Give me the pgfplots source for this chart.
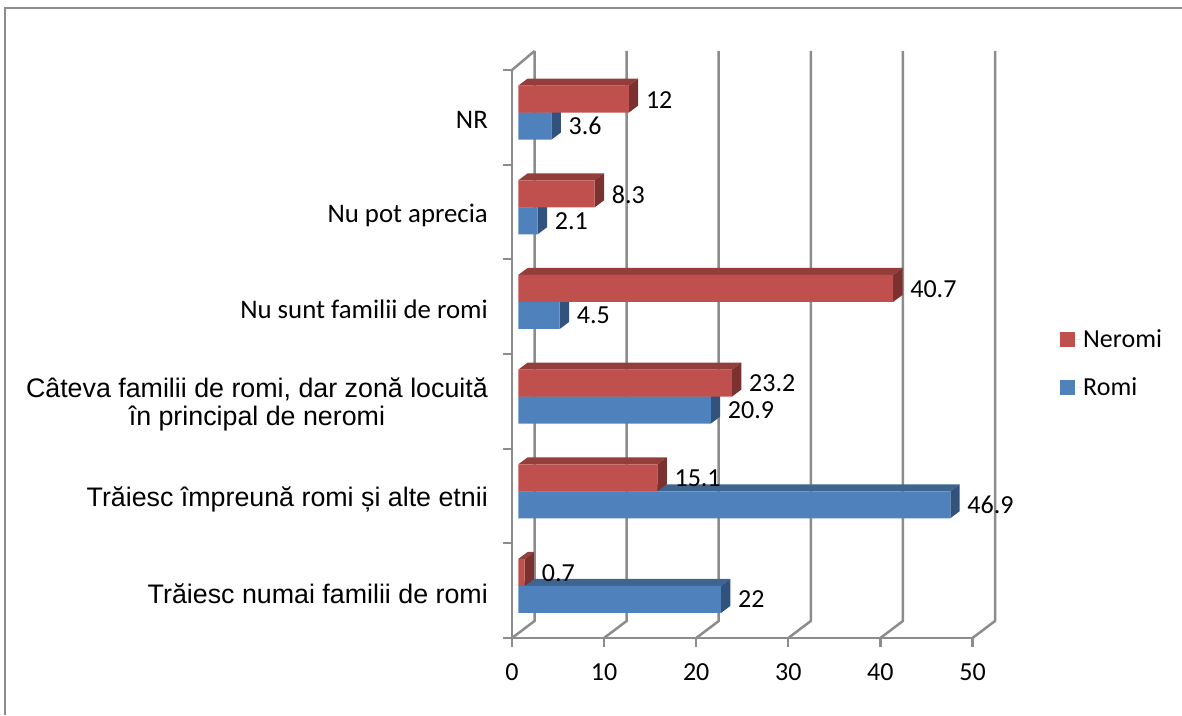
\documentclass[border=0pt]{standalone}
\usepackage{pgfplots}
\usepackage{pgfplotstable}
\pgfplotsset{compat=1.18}
\usepackage{fontspec}
\setmainfont{Carlito}
\newfontfamily\arial{Liberation Sans}
\definecolor{redF}{HTML}{C0504D}
\definecolor{redT}{HTML}{943E3C}
\definecolor{redS}{HTML}{7A3130}
\definecolor{bluF}{HTML}{4F81BD}
\definecolor{bluT}{HTML}{3E6590}
\definecolor{bluS}{HTML}{30527C}
\definecolor{axc}{HTML}{8C8C8C}
\pgfplotstableread{
y romi neromi
0.55 22 0.7
1.55 46.9 15.1
2.55 20.9 23.2
3.55 4.5 40.7
4.55 2.1 8.3
5.55 3.6 12
}\datatable
% depth faces of one bar: centre y, value, top colour, side colour, offset of the bar from the group centre
\newcommand{\depthfaces}[5]{%
  \pgfmathsetmacro{\xa}{#2+0.684}%
  \pgfmathsetmacro{\xb}{#2+0.684+1.02}%
  \pgfmathsetmacro{\xc}{0.684}%
  \pgfmathsetmacro{\xd}{0.684+1.02}%
  \pgfmathsetmacro{\ya}{#1+#5-0.1426}%
  \pgfmathsetmacro{\yb}{#1+#5+0.1426}%
  \pgfmathsetmacro{\yc}{#1+#5+0.1426+0.074}%
  \pgfmathsetmacro{\yd}{#1+#5-0.1426+0.074}%
  \addplot[draw=none,fill=#3,forget plot] coordinates {(\xc,\yb) (\xa,\yb) (\xb,\yc) (\xd,\yc)} --cycle;
  \addplot[draw=none,fill=#4,forget plot] coordinates {(\xa,\ya) (\xa,\yb) (\xb,\yc) (\xb,\yd)} --cycle;
}
\begin{document}
\begin{tikzpicture}[x=1pt,y=1pt]
\useasboundingbox (0,0) rectangle (1182,715);
\draw[color=axc,line width=2pt] (5,0) -- (5,707) -- (1182,707);
\begin{axis}[
  at={(512pt,77pt)},anchor=south west,
  width=460.5pt,height=568pt,scale only axis,
  xmin=0,xmax=50,ymin=0,ymax=6,clip=false,
  axis x line=bottom,axis y line=left,
  axis line style={-,color=axc,line width=2.5pt},
  xtick={0,10,20,30,40,50},
  ytick={0.5,1.5,2.5,3.5,4.5,5.5},
  minor ytick={0,1,2,3,4,5,6},
  yticklabels={
    {\arial Trăiesc numai familii de romi},
    {\arial Trăiesc împreună romi și alte etnii},
    {\arial Câteva familii de romi, dar zonă locuită\\\arial în principal de neromi},
    {Nu sunt familii de romi},
    {Nu pot aprecia},
    {NR}},
  tick align=outside,
  tick style={color=axc,line width=2.2pt},
  major tick length=9pt,
  minor tick length=9pt,
  major y tick style={draw=none},
  minor y tick style={draw=axc,line width=2.2pt},
  /pgf/number format/assume math mode=true,
  xticklabel style={font=\fontsize{26}{31}\selectfont,yshift=-13pt},
  yticklabel style={font=\fontsize{26.8}{28.5}\selectfont,align=center,anchor=east,inner sep=0pt,xshift=-15pt,yshift=-3pt},
  legend style={at={(1.19,0.546)},anchor=north west,draw=none,fill=none,
    font=\fontsize{26}{31}\selectfont,row sep=24pt,inner sep=0pt},
  legend cell align=left,
  reverse legend,
  legend image code/.code={\fill[#1] (0pt,-7.5pt) rectangle (15pt,7.5pt);\path (0pt,0pt) -- (21pt,0pt);},
]
% back wall, floor and wall edges
\foreach \v in {0,10,20,30,40,50}{
  \edef\tmp{\noexpand\draw[color=axc,line width=2.5pt] (axis cs:\v,0) -- ++(22.5pt,17pt) -- ++(0pt,570pt);}\tmp
}
\draw[color=axc,line width=2.5pt] (axis cs:0,6) -- ++(22.5pt,19pt);
% blue bars first, red bars in front of their top faces
\depthfaces{0.55}{22}{bluT}{bluS}{-0.1426}
\depthfaces{1.55}{46.9}{bluT}{bluS}{-0.1426}
\depthfaces{2.55}{20.9}{bluT}{bluS}{-0.1426}
\depthfaces{3.55}{4.5}{bluT}{bluS}{-0.1426}
\depthfaces{4.55}{2.1}{bluT}{bluS}{-0.1426}
\depthfaces{5.55}{3.6}{bluT}{bluS}{-0.1426}
\addplot[xbar,bar width=27pt,bar shift=-13.5pt,xshift=6.3pt,draw=none,fill=bluF] table[x=romi,y=y] {\datatable};
\addlegendentry{Romi}
\depthfaces{0.55}{0.7}{redT}{redS}{0.1426}
\depthfaces{1.55}{15.1}{redT}{redS}{0.1426}
\depthfaces{2.55}{23.2}{redT}{redS}{0.1426}
\depthfaces{3.55}{40.7}{redT}{redS}{0.1426}
\depthfaces{4.55}{8.3}{redT}{redS}{0.1426}
\depthfaces{5.55}{12}{redT}{redS}{0.1426}
\addplot[xbar,bar width=27pt,bar shift=13.5pt,xshift=6.3pt,draw=none,fill=redF] table[x=neromi,y=y] {\datatable};
\addlegendentry{Neromi}
% data labels
\addplot[only marks,mark=none,forget plot,point meta=x,nodes near coords,
  every node near coord/.style={anchor=west,inner sep=0pt,xshift=23.3pt,yshift=13pt,color=black,font=\fontsize{26}{31}\selectfont}]
  table[x=neromi,y=y] {\datatable};
\addplot[only marks,mark=none,forget plot,point meta=x,nodes near coords,
  every node near coord/.style={anchor=west,inner sep=0pt,xshift=23.3pt,yshift=-13.5pt,color=black,font=\fontsize{26}{31}\selectfont}]
  table[x=romi,y=y] {\datatable};
\end{axis}
\end{tikzpicture}
\end{document}
